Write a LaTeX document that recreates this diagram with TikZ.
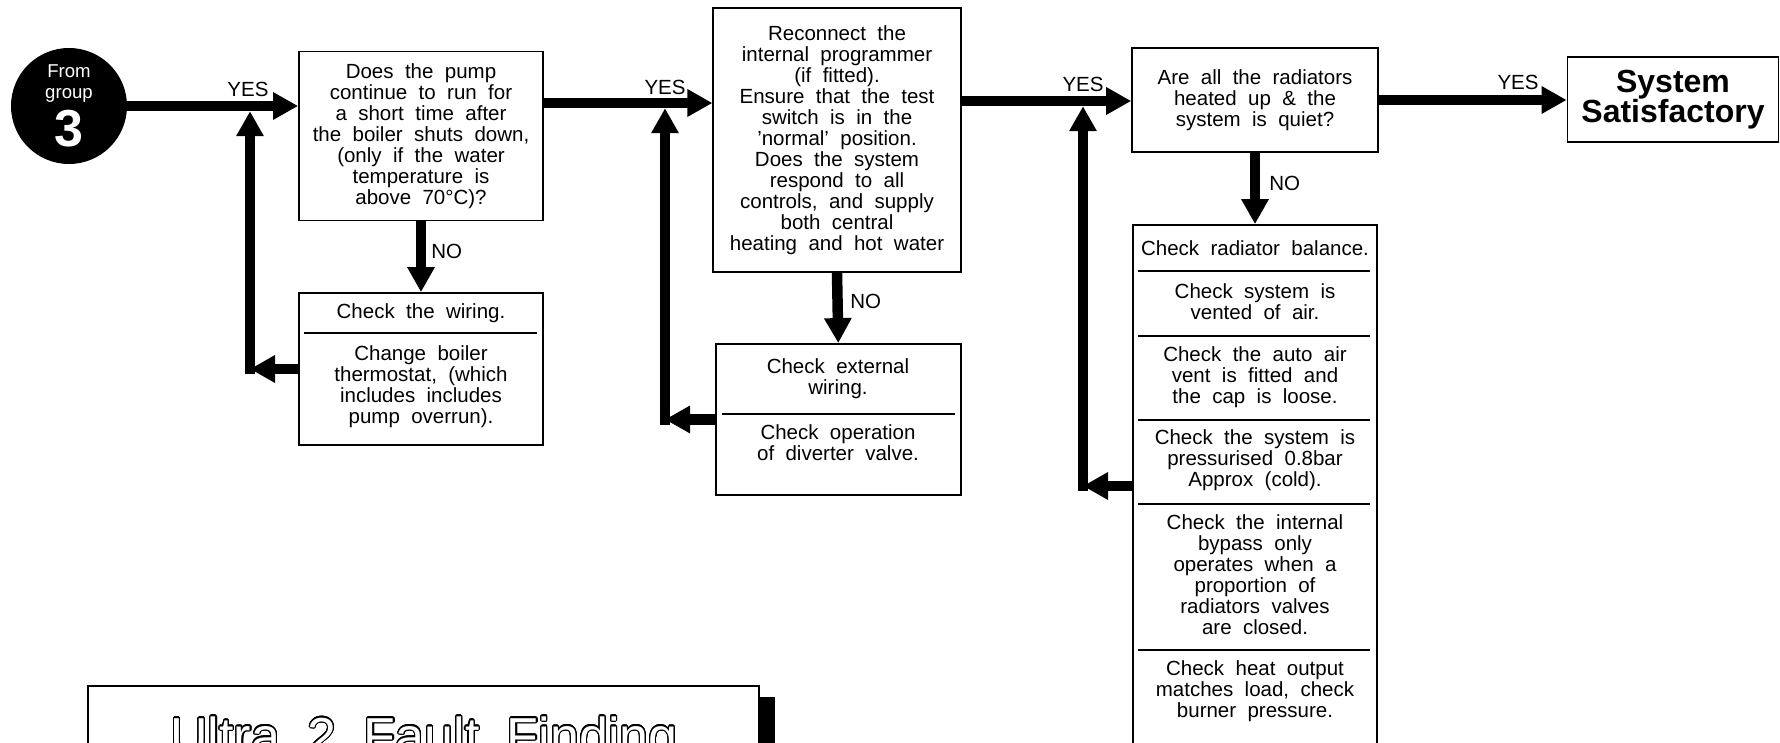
\documentclass[tikz,border=0pt]{standalone}
\usepackage{fontspec}
\setmainfont{Liberation Sans}[WordSpace=2.0]
\newfontfamily\titlefont{Liberation Sans}[WordSpace=1.9]
\usepackage{contour}
\contourlength{0.55pt}
\contournumber{24}
\usetikzlibrary{arrows.meta}

\begin{document}
\begin{tikzpicture}[x=0.5pt, y=-0.5pt,
  txt/.style={font=\fontsize{10.25}{10.5}\selectfont, align=center, inner sep=0pt},
  box/.style={draw, line width=0.9pt, txt},
  lbl/.style={font=\fontsize{10.25}{10.5}\selectfont, inner sep=1pt},
  arr/.style={line width=5.25pt, -{Triangle[length=12.5pt,width=13pt]}},
  divider/.style={line width=0.9pt},
]
  \useasboundingbox (0,0) rectangle (1780,743);
  \clip (0,0) rectangle (1780,743);

  % Start
  \node[circle, fill=black, text=white, minimum size=58pt, inner sep=0pt, align=center,
        font=\fontsize{9.3}{10.5}\selectfont] (grp) at (69,106)
        {From\\group\\[3pt]{\fontsize{26}{26}\selectfont\bfseries 3}};

  % Questions
  \node[box, minimum width=122pt, minimum height=84.5pt] (q1) at (421,136)
    {Does the pump\\continue to run for\\a short time after\\the boiler shuts down,\\(only if the water\\temperature is\\above 70°C)?};
  \node[box, minimum width=123.7pt, minimum height=131.7pt] (q2) at (837,140)
    {Reconnect the\\internal programmer\\(if fitted).\\Ensure that the test\\switch is in the\\'normal' position.\\Does the system\\respond to all\\controls, and supply\\both central\\heating and hot water};
  \node[box, minimum width=122.9pt, minimum height=52.3pt] (q3) at (1255,100)
    {Are all the radiators\\heated up \& the\\system is quiet?};
  \node[box, minimum width=105.5pt, minimum height=42.2pt,
        font=\fontsize{16}{15.2}\selectfont\bfseries] (ss) at (1673,99.5) {System\\Satisfactory};

  % Checks after first question
  \node[box, minimum width=122.2pt, minimum height=76pt] (chk1) at (421,369) {};
  \node[txt] (chk1a) at (421,313) {Check the wiring.};
  \node[txt] (chk1b) at (421,387) {Change boiler\\thermostat, (which\\includes includes\\pump overrun).};
  \draw[divider] (304,333) -- (537,333);

  % Checks after second question
  \node[box, minimum width=122.4pt, minimum height=75.5pt] (ext) at (838.3,419.5) {};
  \node[txt] (exta) at (838,379) {Check external\\wiring.};
  \node[txt] (extb) at (838,442.5) {Check operation\\of diverter valve.};
  \draw[divider] (722,414) -- (955,414);

  % Checks after third question
  \node[box, minimum width=122pt, minimum height=267.5pt] (big) at (1255,492.5) {};
  \node[txt] (s1) at (1255,248.5) {Check radiator balance.};
  \node[txt] (s2) at (1255,302) {Check system is\\vented of air.};
  \node[txt] (s3) at (1255,377) {Check the auto air\\vent is fitted and\\the cap is loose.};
  \node[txt] (s4) at (1255,460.6) {Check the system is\\pressurised 0.8bar\\Approx (cold).};
  \node[txt] (s5) at (1255,574.4) {Check the internal\\bypass only\\operates when a\\proportion of\\radiators valves\\are closed.};
  \node[txt] (s6) at (1255,691) {Check heat output\\matches load, check\\burner pressure.};
  \foreach \yy in {271,336,420,504,650}
    \draw[divider] (1138,\yy) -- (1370,\yy);

  % Title
  \fill (759,697) rectangle (775,760);
  \node[draw, line width=0.9pt, minimum width=335.5pt, minimum height=37pt] (ttlbox) at (423.8,723) {};
  \node[anchor=base, inner sep=0pt, font=\titlefont\fontsize{26}{26}\selectfont] (ttl) at (424,754)
    {\contour{black}{\textcolor{white}{Ultra 2 Fault Finding}}};

  % Connectors
  \coordinate (y1) at (250,106);
  \coordinate (y2) at (665,103);
  \coordinate (y3) at (1083,101);
  \coordinate (c1) at (chk1.west -| y1);
  \coordinate (c2) at (ext.west -| y2);
  \coordinate (c3) at (1083,486);

  \draw[arr] (grp.east) -- (grp.east -| q1.west);
  \draw[arr] (q1.east |- y2) -- (q2.west |- y2);
  \draw[arr] (q2.east |- y3) -- (q3.west |- y3);
  \draw[arr] (q3.east) -- (q3.east -| ss.west);

  \draw[arr] (q1.south) -- (chk1.north);
  \draw[arr] (q2.south) -- (ext.north);
  \draw[arr] (q3.south) -- (big.north);

  \draw[arr] (chk1.west) -- (c1);
  \draw[arr, line cap=rect, shorten >=2.6pt] (c1) -- (y1);
  \draw[arr] (ext.west) -- (c2);
  \draw[arr, line cap=rect, shorten >=2.6pt] (c2) -- (y2);
  \draw[arr] (big.west |- c3) -- (c3);
  \draw[arr, line cap=rect, shorten >=2.6pt] (c3) -- (y3);

  % Labels
  \node[lbl, above] (yes1) at (248,99) {YES};
  \node[lbl, above] (yes2) at (665,97) {YES};
  \node[lbl, above] (yes3) at (1083,94) {YES};
  \node[lbl, above] (yes4) at (1518,92) {YES};
  \node[lbl, right] (no1) at (429,251) {NO};
  \node[lbl, right] (no2) at (848,301) {NO};
  \node[lbl, right] (no3) at (1267,183) {NO};
\end{tikzpicture}
\end{document}
